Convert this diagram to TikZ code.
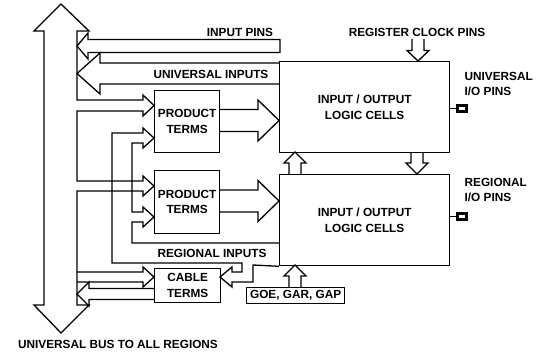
\documentclass[tikz,border=0pt]{standalone}
\usepackage{fontspec}
\setmainfont{Liberation Sans}
\begin{document}
\begin{tikzpicture}[x=1pt,y=-1pt,line width=1.3pt,line join=miter,
  lbl/.style={font=\bfseries\fontsize{11.8}{15.5}\selectfont,inner sep=0pt,align=center},
  blk/.style={draw,line width=1.3pt,inner sep=0pt,anchor=north west,
    font=\bfseries\fontsize{11.8}{15.5}\selectfont,align=center},
  pin/.style={draw,line width=2.6pt,minimum width=9pt,minimum height=6pt,inner sep=0pt}]
\useasboundingbox (0,0) rectangle (540,353);

% boxes
\node[blk,minimum width=170pt,minimum height=91pt] (io1) at (279,61) {INPUT / OUTPUT\\LOGIC CELLS};
\node[blk,minimum width=170pt,minimum height=91pt] (io2) at (279,174) {INPUT / OUTPUT\\LOGIC CELLS};
\node[blk,minimum width=65pt,minimum height=62pt] (pt1) at (154,90) {PRODUCT\\TERMS};
\node[blk,minimum width=65pt,minimum height=63pt] (pt2) at (154,170) {PRODUCT\\TERMS};
\node[blk,minimum width=66pt,minimum height=34pt] (ct) at (154,268) {CABLE\\TERMS};
\node[blk,minimum width=98pt,minimum height=16pt] (goe) at (246,287) {GOE, GAR, GAP};

% labels
\node[lbl] (lip) at (240,32) {INPUT PINS};
\node[lbl] (lui) at (211,74) {UNIVERSAL INPUTS};
\node[lbl] (lrc) at (417,32) {REGISTER CLOCK PINS};
\node[lbl,anchor=west,align=left] (luio) at (464,84) {UNIVERSAL\\I/O PINS};
\node[lbl,anchor=west,align=left] (lrio) at (464,190) {REGIONAL\\I/O PINS};
\node[lbl] (lri) at (212,253) {REGIONAL INPUTS};
\node[lbl] (lub) at (118,344) {UNIVERSAL BUS TO ALL REGIONS};

% bus with branches into product terms
\draw (154,105.5) -- (143,95) -- (143,100) -- (77,100) -- (77,31) -- (89,31) -- (61,4)
  -- (34,31) -- (44,31) -- (44,305) -- (34,305) -- (61,333) -- (89,305) -- (77,305)
  -- (77,191) -- (143,191) -- (143,196) -- (154,186) -- (143,176) -- (143,181)
  -- (77,181) -- (77,111) -- (143,111) -- (143,116) -- cycle;

% regional lines
\draw (io2.west |- 0,243) -- (132,243) -- (132,222) -- (143,222) -- (143,227) -- (154,217)
  -- (143,207) -- (143,212) -- (132,212) -- (132,143) -- (143,143) -- (143,148)
  -- (154,138) -- (143,128) -- (143,133) -- (112,133) -- (112,263) -- (242,263)
  -- (242,272) -- (232,272) -- (232,267) -- (220,277) -- (232,287) -- (232,282)
  -- (253,282) -- (253,265) -- (io2.south west);

% cable terms arrows
\draw (77,272) -- (143,272) -- (143,267) -- (154,277) -- (143,287) -- (143,282) -- (77,282);
\draw (154,288.5) -- (89,288.5) -- (89,282) -- (77,294) -- (89,306) -- (89,299.5) -- (154,299.5);

% input arrows
\draw (280,39.5) -- (88,39.5) -- (88,33) -- (77,46) -- (88,59) -- (88,52.5) -- (280,52.5) -- cycle;
\draw (279,63) -- (100,63) -- (100,53) -- (77,73.5) -- (100,94) -- (100,84) -- (279,84);

% product terms to I/O cells
\draw (219,109.5) -- (258,109.5) -- (258,100) -- (279,120.5) -- (258,141) -- (258,131.5) -- (219,131.5);
\draw (219,190) -- (258,190) -- (258,180.5) -- (279,201) -- (258,221.5) -- (258,212) -- (219,212);

% vertical arrows
\draw (289,174) -- (289,163) -- (284,163) -- (295,152) -- (306,163) -- (301,163) -- (301,174);
\draw (411,152) -- (411,163) -- (406,163) -- (417,174) -- (428,163) -- (423,163) -- (423,152);
\draw (412,39) -- (412,50.5) -- (407,50.5) -- (418,61) -- (429,50.5) -- (424,50.5) -- (424,39);
\draw (289,287) -- (289,276) -- (284,276) -- (295,265) -- (306,276) -- (301,276) -- (301,287);

% pins
\node[pin] (p1) at (462,108.5) {};
\node[pin] (p2) at (462,216.5) {};
\draw (io1.east |- p1) -- (p1);
\draw (io2.east |- p2) -- (p2);
\end{tikzpicture}
\end{document}
